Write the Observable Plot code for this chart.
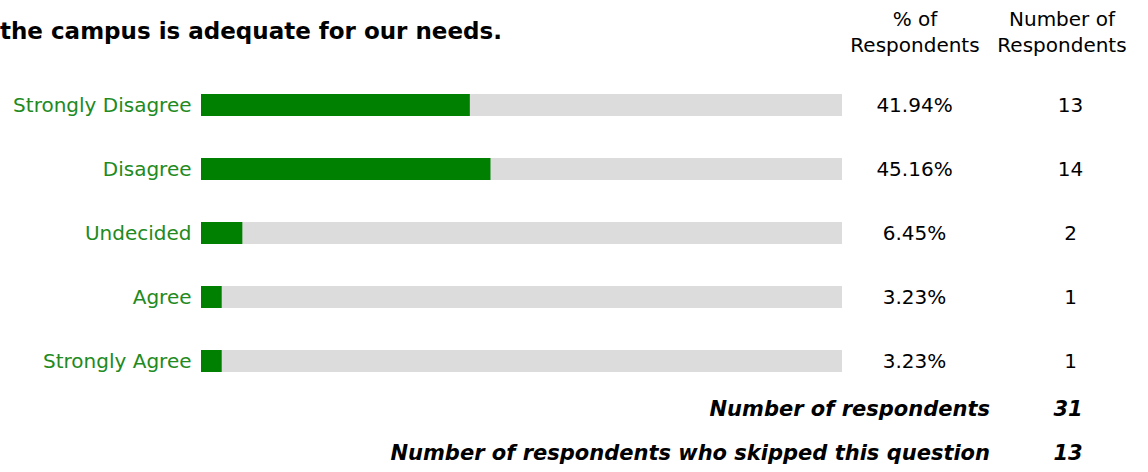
<!DOCTYPE html>
<html>
<head>
<meta charset="utf-8">
<script src="https://cdn.jsdelivr.net/npm/d3@7"></script>
<script src="https://cdn.jsdelivr.net/npm/@observablehq/plot@0.6"></script>
<style>
  html, body { margin: 0; padding: 0; background: #fff; }
  #wrap { position: relative; width: 1148px; height: 472px; overflow: hidden; font-family: "DejaVu Sans", Verdana, sans-serif; }
  .abs { position: absolute; white-space: nowrap; }
  #title { left: 0; top: 18px; font-size: 23px; font-weight: bold; color: #000; }
  .hdr { top: 6px; font-size: 20px; line-height: 26px; text-align: center; color: #000; }
  .foot { font-size: 21px; font-weight: bold; font-style: italic; color: #000; }
</style>
</head>
<body>
<div id="wrap"></div>
<script>
const categories = ["Strongly Disagree", "Disagree", "Undecided", "Agree", "Strongly Agree"];
const percents = [41.94, 45.16, 6.45, 3.23, 3.23];
const counts = [13, 14, 2, 1, 1];
const titleText = "the campus is adequate for our needs.";
const headers = ["% of\nRespondents", "Number of\nRespondents"];
const footLabels = ["Number of respondents", "Number of respondents who skipped this question"];
const footValues = [31, 13];

const rows = categories.map((c, i) => ({cat: c, pct: percents[i], n: counts[i]}));

const chart = Plot.plot({
  width: 1148,
  height: 472,
  marginLeft: 201,
  marginRight: 306,
  marginTop: 73,
  marginBottom: 79,
  style: {fontFamily: "DejaVu Sans, Verdana, sans-serif", fontSize: "20px", background: "#fff"},
  x: {domain: [0, 100], axis: null},
  y: {domain: categories, padding: 0, axis: null},
  marks: [
    Plot.barX(rows, {x1: 0, x2: 100, y: "cat", fill: "#dcdcdc", insetTop: 21, insetBottom: 21}),
    Plot.barX(rows, {x1: 0, x2: "pct", y: "cat", fill: "#008000", insetTop: 21, insetBottom: 21}),
    Plot.text(rows, {x: 0, y: "cat", text: "cat", textAnchor: "end", dx: -10, fill: "#218a21", fontSize: 20}),
    Plot.text(rows, {x: 100, y: "cat", text: d => d.pct.toFixed(2) + "%", textAnchor: "middle", dx: 72, fill: "#000", fontSize: 20, style: {letterSpacing: "1.5px"}}),
    Plot.text(rows, {x: 100, y: "cat", text: "n", textAnchor: "middle", dx: 228, fill: "#000", fontSize: 20})
  ]
});

const wrap = document.getElementById("wrap");
wrap.appendChild(chart);
chart.style.position = "absolute";
chart.style.left = "0";
chart.style.top = "0";

function add(cls, text, css) {
  const d = document.createElement("div");
  d.className = "abs " + cls;
  d.textContent = text;
  Object.assign(d.style, css);
  wrap.appendChild(d);
  return d;
}
add("", titleText, {}).id = "title";
const h1 = add("hdr", "", {left: "845px", width: "140px"});
h1.innerHTML = headers[0].replace("\n", "<br>");
const h2 = add("hdr", "", {left: "992px", width: "140px"});
h2.innerHTML = headers[1].replace("\n", "<br>");

footLabels.forEach((t, i) => {
  add("foot", t, {right: (1148 - 990) + "px", top: (397 + i * 44) + "px"});
  add("foot", String(footValues[i]), {left: "1048px", width: "40px", textAlign: "center", top: (397 + i * 44) + "px"});
});
</script>
</body>
</html>
